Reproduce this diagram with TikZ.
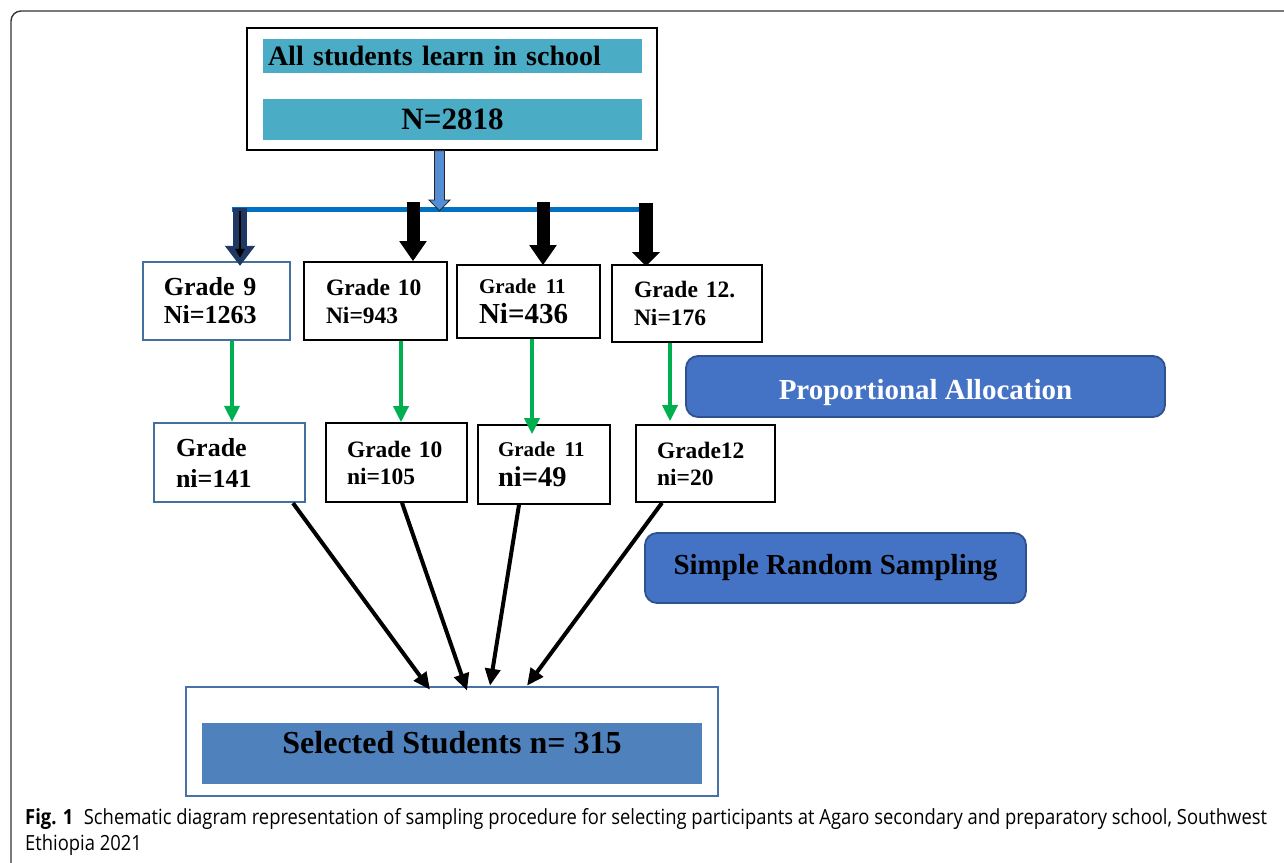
\documentclass[tikz,border=0pt]{standalone}
\usepackage{fontspec}
\setmainfont{Liberation Serif}
\newfontfamily\capfont{Open Sans}[FakeStretch=0.88]
\usetikzlibrary{arrows.meta,calc}
\definecolor{popbar}{RGB}{75,172,198}
\definecolor{feedblue}{RGB}{84,141,212}
\definecolor{barblue}{RGB}{0,112,192}
\definecolor{navyarrow}{RGB}{31,56,100}
\definecolor{gboxblue}{RGB}{65,113,156}
\definecolor{allocgreen}{RGB}{0,176,80}
\definecolor{methodfill}{RGB}{68,114,196}
\definecolor{methodline}{RGB}{47,82,143}
\definecolor{selline}{RGB}{70,114,168}
\definecolor{selfill}{RGB}{79,129,189}
\begin{document}
\begin{tikzpicture}[x=1pt,y=-1pt,
  grade/.style={draw=black,line width=1.6pt,align=left,inner ysep=0pt},
  gradeblue/.style={grade,draw=gboxblue,line width=2.2pt},
  method/.style={draw=methodline,fill=methodfill,line width=1.8pt,rounded corners=12pt,
    font=\bfseries\fontsize{29}{32}\selectfont},
  feed/.style={line width=13pt,-{Triangle[width=26pt,length=20pt]}},
  alloc/.style={allocgreen,line width=3.5pt,-{Triangle[width=15pt,length=16pt]}},
  pick/.style={line width=4pt,-{Triangle[width=15pt,length=17pt]}}]
\useasboundingbox (0,0) rectangle (1284,862);
\draw[gray!40!black,line width=1.4pt,rounded corners=10pt] (11,880) -- (11,11) -- (1300,11);

% population box
\node[draw,line width=1.8pt,minimum width=410pt,minimum height=122pt] (pop) at (452,89) {};
\node[fill=popbar,minimum height=34pt,text width=369pt,inner xsep=5pt,inner ysep=0pt,align=left,
  font=\bfseries\fontsize{28}{30}\selectfont] (popname) at (452.5,56) {All students learn in school};
\node[fill=popbar,minimum width=379pt,minimum height=41pt,inner sep=0pt,
  font=\bfseries\fontsize{31}{33}\selectfont] (popsize) at (452.5,119.5) {N=2818};

% split into grades
\coordinate (split) at (439.5,210.7);
\draw[barblue,line width=4.7pt] (232,209.7) -- (641,209.7);
\draw[fill=feedblue,draw=black!85,line width=0.8pt] ($(split)+(-5,-60)$) -- ++(0,49.3) -- ++(-5.5,0)
  -- (split) -- ($(split)+(10.5,-10.7)$) -- ++(-5.5,0) -- ++(0,-49.3) -- cycle;

% grades, all students
\node[gradeblue,text width=105pt,inner xsep=21pt,minimum height=78pt,
  font=\bfseries\fontsize{26}{28}\selectfont] (g9) at (216.4,301) {Grade 9\\Ni=1263};
\node[grade,text width=99pt,inner xsep=22pt,minimum height=78pt,
  font=\bfseries\fontsize{23.5}{28}\selectfont] (g10) at (375.5,301) {Grade 10\\Ni=943};
\node[grade,text width=99pt,inner xsep=22pt,minimum height=73pt,
  font=\bfseries\fontsize{29}{30}\selectfont] (g11) at (528.5,301.5) {{\fontsize{21}{24}\selectfont Grade 11}\\Ni=436};
\node[grade,text width=106pt,inner xsep=22pt,minimum height=77pt,
  font=\bfseries\fontsize{23.5}{28}\selectfont] (g12) at (687,303.5) {Grade 12.\\Ni=176};

\coordinate (s9) at (240,208);
\coordinate (s10) at (413,202);
\coordinate (s11) at (543,202);
\coordinate (s12) at (646,203);
\draw[navyarrow,line width=14pt,-{Triangle[width=29pt,length=20pt]}] (s9) -- ($(s9 |- g9.north)+(0,5)$);
\draw[line width=2.5pt,-{Triangle[width=9pt,length=9pt]}] ($(s9)+(0,3)$) -- ($(s9 |- g9.north)+(0,-3)$);
\draw[feed] (s10) -- (s10 |- g10.north);
\draw[feed] (s11) -- ($(s11 |- g11.north)+(0,1)$);
\draw[feed,line width=14pt,-{Triangle[width=27pt,length=14pt]}] (s12) -- ($(s12 |- g12.north)+(0,2)$);

% grades, sample
\node[gradeblue,text width=107pt,inner xsep=22pt,minimum height=79pt,
  font=\bfseries\fontsize{26}{31}\selectfont] (h9) at (229.5,462.5) {Grade\\ni=141};
\node[grade,text width=99pt,inner xsep=21pt,minimum height=79pt,
  font=\bfseries\fontsize{23.5}{27}\selectfont] (h10) at (396.5,462.5) {Grade 10\\ni=105};
\node[grade,text width=92pt,inner xsep=20pt,minimum height=79pt,
  font=\bfseries\fontsize{28.5}{30}\selectfont] (h11) at (544,464.5) {{\fontsize{21}{24}\selectfont Grade 11}\\ni=49};
\node[grade,text width=97pt,inner xsep=21pt,minimum height=77pt,
  font=\bfseries\fontsize{23.5}{27}\selectfont] (h12) at (705.5,463.5) {Grade12\\ni=20};

\draw[alloc] (g9.south -| 232,0) -- (h9.north -| 232,0);
\draw[alloc] (g10.south -| 401,0) -- (h10.north -| 401,0);
\draw[alloc] (g11.south -| 532,0) -- ($(h11.north -| 532,0)+(0,10)$);
\draw[alloc] (g12.south -| 670,0) -- ($(h12.north -| 670,0)+(0,-3)$);

\node[method,text=white,minimum width=479pt,minimum height=61pt,text height=26pt,text depth=0pt] (prop) at (925.5,386.5) {Proportional Allocation};
\node[method,minimum width=381pt,minimum height=70pt] (srs) at (835.5,568) {Simple Random Sampling};

% selected students
\node[draw=selline,line width=2.6pt,minimum width=532pt,minimum height=109pt] (sel) at (452,741.5) {};
\node[fill=selfill,minimum width=500pt,minimum height=61pt] (selbar) at (452,753.5) {};
\node[font=\bfseries\fontsize{32}{34}\selectfont] (selname) at (452,743) {Selected Students n= 315};

\draw[pick] (h9.south -| 293,0) -- ($(sel.north -| 430,0)+(0,4)$);
\draw[pick] (h10.south -| 402,0) -- ($(sel.north -| 467,0)+(0,5)$);
\draw[pick] (h11.south -| 519,0) -- (sel.north -| 490,0);
\draw[pick] (h12.south -| 662,0) -- (sel.north -| 527,0);

\node[anchor=north west,align=left,inner sep=0pt,font=\capfont\fontsize{20.9}{26}\selectfont] (cap) at (25,808)
  {{\bfseries Fig. 1}\hspace{0.5em}Schematic diagram representation of sampling procedure for selecting participants at Agaro secondary and preparatory school, Southwest\\Ethiopia 2021};
\end{tikzpicture}
\end{document}
